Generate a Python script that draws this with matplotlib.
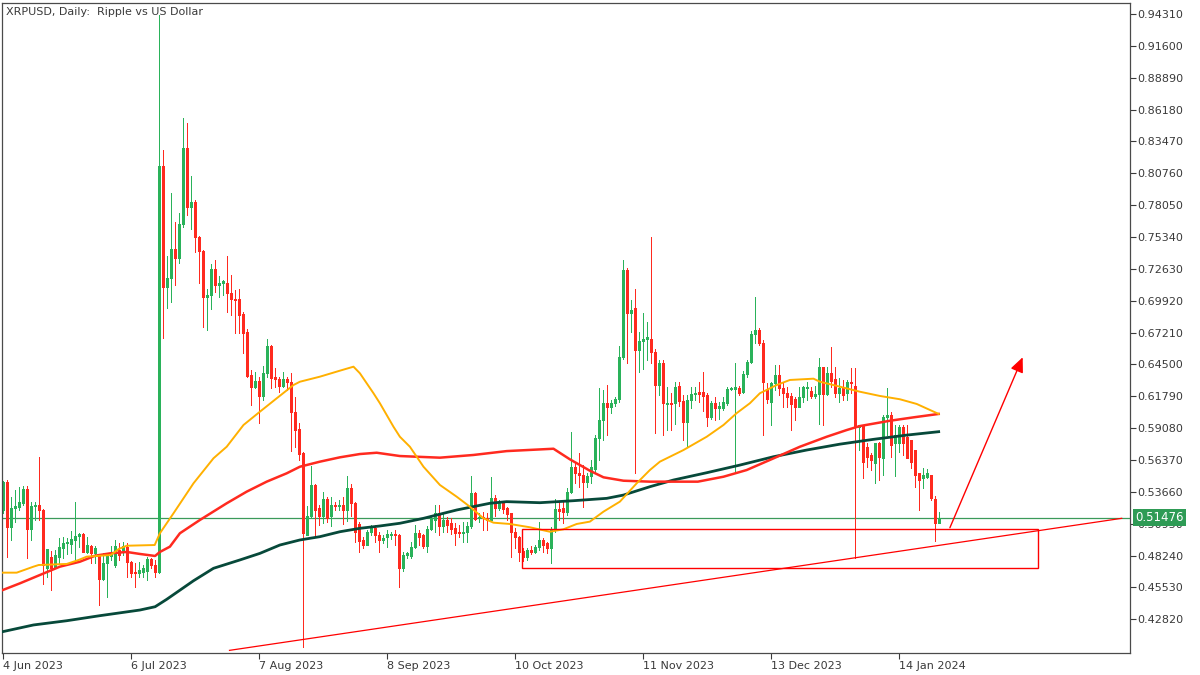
import numpy as np
import pandas as pd
import matplotlib
matplotlib.use("Agg")
import matplotlib.pyplot as plt
import matplotlib.dates as mdates
import matplotlib.transforms as mtransforms
from matplotlib.patches import Rectangle

# ---------------- data ----------------
start_date = "2023-06-04"
title_text = "XRPUSD, Daily:  Ripple vs US Dollar"

opens = [
    0.5212, 0.5453, 0.5065, 0.5226, 0.5240, 0.5270, 0.5390, 0.5048, 0.5246, 0.5255,
    0.5212, 0.4716, 0.4809, 0.4716, 0.4809, 0.4886, 0.4933, 0.4922, 0.4957, 0.4991,
    0.5008, 0.4857, 0.4905, 0.4843, 0.4829, 0.4622, 0.4758, 0.4821, 0.4744, 0.4872,
    0.4872, 0.4899, 0.4772, 0.4687, 0.4673, 0.4687, 0.4695, 0.4792, 0.4744, 0.4687,
    0.8141, 0.7111, 0.7183, 0.7430, 0.7353, 0.7645, 0.8289, 0.7787, 0.7829, 0.7532,
    0.7418, 0.7026, 0.7041, 0.7262, 0.7126, 0.7140, 0.7145, 0.7060, 0.7004, 0.7004,
    0.6879, 0.6723, 0.6360, 0.6256, 0.6309, 0.6182, 0.6380, 0.6607, 0.6346, 0.6324,
    0.6267, 0.6324, 0.6303, 0.6048, 0.5898, 0.5694, 0.5000, 0.5158, 0.5425, 0.5226,
    0.5158, 0.5308, 0.5158, 0.5255, 0.5246, 0.5255, 0.5212, 0.5397, 0.5274, 0.5093,
    0.4957, 0.4914, 0.5027, 0.5056, 0.4999, 0.4957, 0.4979, 0.4999, 0.5008, 0.4999,
    0.4716, 0.4829, 0.4821, 0.4899, 0.5014, 0.4999, 0.4905, 0.5048, 0.5127, 0.5184,
    0.5076, 0.5127, 0.5099, 0.5056, 0.5027, 0.5014, 0.5027, 0.5076, 0.5354, 0.5141,
    0.5155, 0.5141, 0.5127, 0.5311, 0.5226, 0.5269, 0.5226, 0.5184, 0.5027, 0.4979,
    0.4866, 0.4815, 0.4872, 0.4857, 0.4899, 0.4957, 0.4928, 0.4886, 0.5042, 0.5218,
    0.5226, 0.5198, 0.5368, 0.5580, 0.5529, 0.5510, 0.5450, 0.5500, 0.5560, 0.5823,
    0.5977, 0.6125, 0.6086, 0.6125, 0.6153, 0.6510, 0.7253, 0.6890, 0.6927, 0.6573,
    0.6652, 0.6667, 0.6664, 0.6558, 0.6275, 0.6460, 0.6114, 0.6125, 0.6119, 0.6267,
    0.6142, 0.5963, 0.6148, 0.6199, 0.6213, 0.6218, 0.6190, 0.6001, 0.6125, 0.6077,
    0.6077, 0.6125, 0.6241, 0.6241, 0.6247, 0.6218, 0.6369, 0.6473, 0.6709, 0.6743,
    0.6635, 0.6238, 0.6133, 0.6289, 0.6360, 0.6247, 0.6205, 0.6182, 0.6160, 0.6091,
    0.6171, 0.6250, 0.6227, 0.6182, 0.6199, 0.6426, 0.6199, 0.6375, 0.6324, 0.6205,
    0.6256, 0.6205, 0.6303, 0.6267, 0.5915, 0.5927, 0.5750, 0.5680, 0.5610, 0.5779,
    0.5652, 0.6001, 0.6020, 0.5779, 0.5779, 0.5915, 0.5835, 0.5807, 0.5722, 0.5524,
    0.5482, 0.5496, 0.5510, 0.5303, 0.5099,
]
highs = [
    0.5460, 0.5465, 0.5325, 0.5382, 0.5410, 0.5420, 0.5420, 0.5283, 0.5283, 0.5660,
    0.5220, 0.4880, 0.4866, 0.4872, 0.4973, 0.4984, 0.4970, 0.5035, 0.5277, 0.5020,
    0.5015, 0.4984, 0.4914, 0.4905, 0.4835, 0.4843, 0.4843, 0.4905, 0.4960, 0.4928,
    0.4942, 0.4933, 0.4780, 0.4758, 0.4772, 0.4744, 0.4815, 0.4800, 0.4787, 0.9423,
    0.8274, 0.7372, 0.7906, 0.7664, 0.7736, 0.8544, 0.8501, 0.8053, 0.7849, 0.7540,
    0.7425, 0.7089, 0.7304, 0.7338, 0.7202, 0.7170, 0.7372, 0.7211, 0.7083, 0.7089,
    0.6899, 0.6749, 0.6403, 0.6388, 0.6346, 0.6437, 0.6664, 0.6615, 0.6417, 0.6346,
    0.6388, 0.6346, 0.6380, 0.6176, 0.5950, 0.5708, 0.5246, 0.5586, 0.5433, 0.5255,
    0.5368, 0.5325, 0.5325, 0.5283, 0.5297, 0.5325, 0.5501, 0.5433, 0.5280, 0.5113,
    0.4985, 0.5042, 0.5085, 0.5085, 0.5027, 0.4999, 0.5042, 0.5027, 0.5042, 0.5008,
    0.4857, 0.4857, 0.4942, 0.5085, 0.5042, 0.5008, 0.5076, 0.5169, 0.5255, 0.5255,
    0.5184, 0.5155, 0.5141, 0.5099, 0.5085, 0.5113, 0.5113, 0.5501, 0.5368, 0.5184,
    0.5198, 0.5184, 0.5490, 0.5340, 0.5297, 0.5283, 0.5240, 0.5190, 0.5056, 0.4991,
    0.4886, 0.4886, 0.4905, 0.4914, 0.5113, 0.4971, 0.4942, 0.5070, 0.5303, 0.5283,
    0.5283, 0.5396, 0.5878, 0.5609, 0.5694, 0.5594, 0.5529, 0.5637, 0.5850, 0.6247,
    0.6232, 0.6275, 0.6148, 0.6176, 0.6607, 0.7338, 0.7270, 0.6998, 0.7089, 0.6729,
    0.6890, 0.6814, 0.7534, 0.6580, 0.6488, 0.6488, 0.6261, 0.6205, 0.6303, 0.6303,
    0.6190, 0.6190, 0.6261, 0.6256, 0.6303, 0.6388, 0.6205, 0.6142, 0.6171, 0.6133,
    0.6171, 0.6261, 0.6261, 0.6460, 0.6267, 0.6397, 0.6488, 0.6737, 0.7026, 0.6763,
    0.6658, 0.6289, 0.6303, 0.6445, 0.6445, 0.6303, 0.6256, 0.6205, 0.6171, 0.6256,
    0.6267, 0.6303, 0.6256, 0.6267, 0.6502, 0.6430, 0.6426, 0.6601, 0.6426, 0.6332,
    0.6318, 0.6318, 0.6417, 0.6417, 0.5935, 0.5935, 0.5779, 0.5694, 0.5784, 0.5793,
    0.6020, 0.6247, 0.6048, 0.5935, 0.5935, 0.5935, 0.5935, 0.5807, 0.5722, 0.5524,
    0.5566, 0.5558, 0.5510, 0.5331, 0.5197,
]
lows = [
    0.5190, 0.4815, 0.4957, 0.5112, 0.5210, 0.5255, 0.4800, 0.4957, 0.5127, 0.5127,
    0.4583, 0.4640, 0.4531, 0.4716, 0.4758, 0.4800, 0.4840, 0.4843, 0.4787, 0.4899,
    0.4857, 0.4850, 0.4764, 0.4764, 0.4404, 0.4617, 0.4474, 0.4787, 0.4730, 0.4787,
    0.4829, 0.4645, 0.4645, 0.4560, 0.4645, 0.4645, 0.4617, 0.4716, 0.4645, 0.4680,
    0.6672, 0.6930, 0.6984, 0.7126, 0.7310, 0.7622, 0.7721, 0.7600, 0.7409, 0.7145,
    0.6771, 0.6743, 0.6922, 0.7069, 0.7026, 0.7041, 0.6899, 0.6871, 0.6715, 0.6715,
    0.6545, 0.6346, 0.6105, 0.6247, 0.5955, 0.6148, 0.6346, 0.6247, 0.6256, 0.6218,
    0.6261, 0.6232, 0.5716, 0.5750, 0.5637, 0.4046, 0.4999, 0.5141, 0.4985, 0.5085,
    0.5099, 0.5113, 0.5076, 0.5212, 0.5212, 0.5093, 0.5121, 0.5158, 0.4942, 0.4857,
    0.4886, 0.4914, 0.4999, 0.4942, 0.4857, 0.4928, 0.4899, 0.4962, 0.4914, 0.4559,
    0.4695, 0.4801, 0.4801, 0.4886, 0.4914, 0.4886, 0.4857, 0.5042, 0.5027, 0.4999,
    0.5027, 0.5027, 0.5008, 0.4914, 0.4985, 0.4942, 0.4942, 0.5056, 0.5127, 0.5113,
    0.5042, 0.5042, 0.5120, 0.5158, 0.5212, 0.5184, 0.5127, 0.4815, 0.4886, 0.4781,
    0.4781, 0.4787, 0.4835, 0.4843, 0.4872, 0.4857, 0.4843, 0.4764, 0.5027, 0.5127,
    0.5099, 0.5170, 0.5360, 0.5439, 0.5410, 0.5240, 0.5410, 0.5439, 0.5529, 0.5637,
    0.5807, 0.5850, 0.6040, 0.6097, 0.6133, 0.6493, 0.6465, 0.6729, 0.5524, 0.6389,
    0.6409, 0.6488, 0.6460, 0.5869, 0.6190, 0.5850, 0.5892, 0.5892, 0.5946, 0.6096,
    0.5807, 0.5750, 0.6077, 0.6148, 0.6133, 0.6057, 0.5927, 0.5984, 0.5977, 0.5984,
    0.6063, 0.6105, 0.6232, 0.5537, 0.6190, 0.6205, 0.6346, 0.6460, 0.6630, 0.6616,
    0.5850, 0.6125, 0.5935, 0.6232, 0.6190, 0.6091, 0.6091, 0.5892, 0.5977, 0.6086,
    0.6133, 0.6148, 0.6162, 0.6162, 0.5946, 0.5935, 0.6190, 0.6256, 0.6176, 0.6133,
    0.6148, 0.6148, 0.6205, 0.4801, 0.5722, 0.5482, 0.5580, 0.5552, 0.5439, 0.5467,
    0.5510, 0.5850, 0.5665, 0.5501, 0.5708, 0.5680, 0.5651, 0.5566, 0.5410, 0.5212,
    0.5397, 0.5482, 0.5297, 0.4951, 0.5099,
]
closes = [
    0.5453, 0.5065, 0.5226, 0.5250, 0.5277, 0.5390, 0.5048, 0.5246, 0.5255, 0.5212,
    0.4744, 0.4880, 0.4716, 0.4829, 0.4894, 0.4933, 0.4940, 0.4965, 0.4991, 0.5008,
    0.4857, 0.4914, 0.4843, 0.4886, 0.4622, 0.4764, 0.4843, 0.4843, 0.4905, 0.4829,
    0.4905, 0.4772, 0.4673, 0.4673, 0.4702, 0.4716, 0.4792, 0.4744, 0.4687, 0.8141,
    0.7111, 0.7183, 0.7430, 0.7353, 0.7645, 0.8289, 0.7787, 0.7829, 0.7532, 0.7418,
    0.7026, 0.7041, 0.7262, 0.7126, 0.7140, 0.7160, 0.7060, 0.7004, 0.6998, 0.6871,
    0.6720, 0.6352, 0.6261, 0.6309, 0.6182, 0.6380, 0.6607, 0.6337, 0.6324, 0.6267,
    0.6324, 0.6303, 0.6048, 0.5892, 0.5688, 0.5014, 0.5161, 0.5425, 0.5212, 0.5161,
    0.5308, 0.5141, 0.5255, 0.5246, 0.5255, 0.5212, 0.5397, 0.5269, 0.5027, 0.4951,
    0.4914, 0.5027, 0.5065, 0.4999, 0.4957, 0.4971, 0.5008, 0.5008, 0.4999, 0.4716,
    0.4829, 0.4843, 0.4899, 0.5014, 0.4985, 0.4905, 0.5048, 0.5141, 0.5184, 0.5076,
    0.5127, 0.5085, 0.5048, 0.5014, 0.5014, 0.5027, 0.5076, 0.5354, 0.5133, 0.5155,
    0.5141, 0.5127, 0.5311, 0.5226, 0.5269, 0.5218, 0.5178, 0.5027, 0.4979, 0.4857,
    0.4815, 0.4872, 0.4857, 0.4899, 0.4957, 0.4914, 0.4886, 0.5042, 0.5218, 0.5204,
    0.5198, 0.5368, 0.5580, 0.5529, 0.5510, 0.5450, 0.5500, 0.5580, 0.5823, 0.5977,
    0.6125, 0.6086, 0.6125, 0.6153, 0.6510, 0.7253, 0.6890, 0.6913, 0.6573, 0.6652,
    0.6667, 0.6680, 0.6558, 0.6275, 0.6460, 0.6125, 0.6125, 0.6114, 0.6261, 0.6142,
    0.5963, 0.6148, 0.6199, 0.6210, 0.6199, 0.6184, 0.6001, 0.6125, 0.6077, 0.6096,
    0.6133, 0.6241, 0.6247, 0.6256, 0.6210, 0.6369, 0.6473, 0.6709, 0.6743, 0.6635,
    0.6303, 0.6153, 0.6289, 0.6360, 0.6247, 0.6205, 0.6176, 0.6110, 0.6091, 0.6176,
    0.6256, 0.6256, 0.6182, 0.6199, 0.6426, 0.6199, 0.6375, 0.6312, 0.6205, 0.6247,
    0.6190, 0.6303, 0.6290, 0.5915, 0.5932, 0.5620, 0.5665, 0.5637, 0.5779, 0.5660,
    0.6001, 0.6020, 0.5765, 0.5850, 0.5915, 0.5779, 0.5651, 0.5623, 0.5510, 0.5467,
    0.5510, 0.5524, 0.5311, 0.5099, 0.51476,
]

# moving averages (day offset from start_date, price)
ma_fast_days = [0, 3.5, 7.7, 9, 16, 19, 21, 27, 29, 31, 38, 39.3, 42.7, 47.7, 52.7, 56,
                60.2, 64.3, 68.5, 72.7, 74.3, 79.3, 84.3, 87.7, 89.3, 92.7, 94.3, 97.7,
                99.3, 101.8, 105.2, 109.3, 113.5, 116.8, 120.2, 122.7, 126.8, 131.8,
                136.8, 140.2, 143.5, 146.8, 150.2, 154.3, 158.5, 161.8, 164.3, 170.2,
                176, 180.2, 183.5, 186.8, 189.3, 193.5, 196.8, 202.7, 204.3, 209.3,
                214.3, 219.3, 224.3, 228.5, 231.8, 234]
ma_fast_vals = [0.4679, 0.4679, 0.4730, 0.4744, 0.4753, 0.4787, 0.4815, 0.4829, 0.4880,
                0.4908, 0.4914, 0.5014, 0.5184, 0.5439, 0.5652, 0.5750, 0.5935, 0.6048,
                0.6162, 0.6275, 0.6303, 0.6346, 0.6397, 0.6431, 0.6375, 0.6205, 0.6120,
                0.5920, 0.5835, 0.5750, 0.5580, 0.5425, 0.5325, 0.5240, 0.5141, 0.5104,
                0.5093, 0.5065, 0.5027, 0.5048, 0.5093, 0.5113, 0.5198, 0.5283, 0.5439,
                0.5552, 0.5623, 0.5722, 0.5835, 0.5935, 0.6036, 0.6120, 0.6205, 0.6275,
                0.6318, 0.6329, 0.6303, 0.6261, 0.6218, 0.6182, 0.6154, 0.6114, 0.6063,
                0.6029]

ma_mid_days = [0, 4.3, 9.3, 14.3, 19.3, 23.1, 26.8, 31, 34.3, 38.1, 39.3, 41.8, 44.3,
               49.3, 56, 61, 66, 71, 74.3, 79.3, 84.3, 89.3, 93.5, 99.3, 103.5, 109.3,
               117.7, 126, 137.7, 141.8, 146.8, 150.2, 155.2, 161.8, 173.8, 180.2, 186,
               192.7, 199.3, 206, 211, 214.3, 221.8, 227.7, 234]
ma_mid_vals = [0.4531, 0.4588, 0.4659, 0.4730, 0.4772, 0.4823, 0.4843, 0.4855, 0.4838,
               0.4821, 0.4855, 0.4900, 0.5014, 0.5127, 0.5269, 0.5368, 0.5453, 0.5524,
               0.5580, 0.5623, 0.5660, 0.5688, 0.5699, 0.5671, 0.5665, 0.5657, 0.5680,
               0.5713, 0.5733, 0.5643, 0.5546, 0.5490, 0.5461, 0.5453, 0.5453, 0.5495,
               0.5552, 0.5651, 0.5750, 0.5835, 0.5892, 0.5926, 0.5971, 0.6000, 0.6029]

ma_slow_days = [0, 7.7, 16, 24.3, 34.3, 38.1, 41, 47.7, 52.7, 59.3, 64.3, 69.3, 74.3,
                79.3, 84.3, 89.3, 94.3, 99.3, 105.2, 113.5, 121.8, 126, 134.3, 142.7,
                151, 155.2, 161.8, 167.7, 176, 184.3, 192.7, 201, 209.3, 217.7, 226, 234]
ma_slow_vals = [0.4177, 0.4234, 0.4270, 0.4313, 0.4361, 0.4389, 0.4452, 0.4610, 0.4716,
                0.4787, 0.4843, 0.4914, 0.4957, 0.4985, 0.5027, 0.5056, 0.5076, 0.5099,
                0.5141, 0.5212, 0.5269, 0.5283, 0.5274, 0.5291, 0.5311, 0.5339, 0.5410,
                0.5467, 0.5529, 0.5594, 0.5665, 0.5722, 0.5772, 0.5813, 0.5849, 0.5878]

# annotations (day offset, price)
zone_days = [129.9, 258.9]
zone_prices = [0.4716, 0.5048]
trend_days = [56.7, 279.75]
trend_prices = [0.4018, 0.5141]
arrow_days = [236.8, 255.0]
arrow_prices = [0.5061, 0.6511]

y_ticks = [0.42820, 0.45530, 0.48240, 0.50950, 0.53660, 0.56370, 0.59080, 0.61790,
           0.64500, 0.67210, 0.69920, 0.72630, 0.75340, 0.78050, 0.80760, 0.83470,
           0.86180, 0.88890, 0.91600, 0.94310]
x_tick_dates = ["2023-06-04", "2023-07-06", "2023-08-07", "2023-09-08",
                "2023-10-10", "2023-11-11", "2023-12-13", "2024-01-14"]

# ---------------- style ----------------
GREEN = "#2ab25a"
RED = "#ff2a1f"
MA_FAST = "#ffb000"
MA_MID = "#ff2a1f"
MA_SLOW = "#07493a"
AXC = "#4a4a4a"
TXT = "#3a3a3a"

fig = plt.figure(figsize=(12, 6.75), dpi=100)
fig.patch.set_facecolor("white")
ax = fig.add_axes([2 / 1200, 22 / 675, 1128 / 1200, 650 / 675])
ax.set_facecolor("white")

d0 = mdates.date2num(pd.Timestamp(start_date))
n = len(closes)
x = d0 + np.arange(n)
O = np.array(opens); H = np.array(highs); L = np.array(lows); C = np.array(closes)
up = C >= O
colors = np.where(up, GREEN, RED)

# wicks (1 px)
ax.vlines(x, L, H, colors=colors, linewidth=0.72, zorder=2, antialiased=False)
# bodies (3 px wide strokes)
bottom = np.minimum(O, C)
top = np.maximum(np.maximum(O, C), bottom + 0.0009)
ax.vlines(x, bottom, top, colors=colors, linewidth=2.16, zorder=2,
          antialiased=False, capstyle="butt")

# moving averages
ax.plot(d0 + np.array(ma_slow_days), ma_slow_vals, color=MA_SLOW, lw=2.0, zorder=3)
ax.plot(d0 + np.array(ma_mid_days), ma_mid_vals, color=MA_MID, lw=1.8, zorder=3)
ax.plot(d0 + np.array(ma_fast_days), ma_fast_vals, color=MA_FAST, lw=1.4, zorder=3)

# current price line
last = closes[-1]
ax.axhline(last, color="#3b9a5a", lw=0.9, zorder=1.5)

# annotations
ax.add_patch(Rectangle((d0 + zone_days[0], zone_prices[0]), zone_days[1] - zone_days[0],
                       zone_prices[1] - zone_prices[0], fill=False, ec="red", lw=1.0,
                       zorder=4))
ax.plot(d0 + np.array(trend_days), trend_prices, color="red", lw=0.9, zorder=4)
ax.annotate("", xy=(d0 + arrow_days[1], arrow_prices[1]),
            xytext=(d0 + arrow_days[0], arrow_prices[0]),
            arrowprops=dict(arrowstyle="-|>,head_length=0.9,head_width=0.4",
                            color="red", lw=1.0, shrinkA=0, shrinkB=0),
            zorder=4)

# limits
ax.set_xlim(d0 - 0.175, d0 + 281.83)
ax.set_ylim(0.39955, 0.95246)

# axes / ticks
for s in ax.spines.values():
    s.set_color(AXC)
    s.set_linewidth(0.9)
ax.yaxis.tick_right()
ax.set_yticks(y_ticks)
ax.set_yticklabels([f"{v:.5f}" for v in y_ticks])
ax.tick_params(axis="y", which="both", right=True, left=False, labelright=True,
               labelleft=False, length=4, width=0.8, pad=1, labelsize=8,
               colors=TXT)
xt = [mdates.date2num(pd.Timestamp(d)) for d in x_tick_dates]
ax.set_xticks(xt)
ax.set_xticklabels([pd.Timestamp(d).strftime("%-d %b %Y") for d in x_tick_dates])
ax.tick_params(axis="x", which="both", length=4, width=0.8, pad=2, labelsize=8,
               colors=TXT)
for lab in ax.get_xticklabels():
    lab.set_ha("left")
ax.grid(False)

# price label box (covers the 0.50950 tick label, as in the terminal)
trans = mtransforms.offset_copy(
    mtransforms.blended_transform_factory(ax.transAxes, ax.transData),
    fig=fig, x=5, y=0, units="dots")
ax.text(1.0, last, f"{last:.5f}", transform=trans, ha="left", va="center",
        fontsize=8.5, color="white", clip_on=False, zorder=20,
        bbox=dict(boxstyle="square,pad=0.2", fc="#2e9b55", ec="none"))

# title
fig.text(6 / 1200, 1 - 12 / 675, title_text, fontsize=8, va="center", ha="left",
         color=TXT)

fig.savefig("out.png", dpi=100, facecolor="white")
